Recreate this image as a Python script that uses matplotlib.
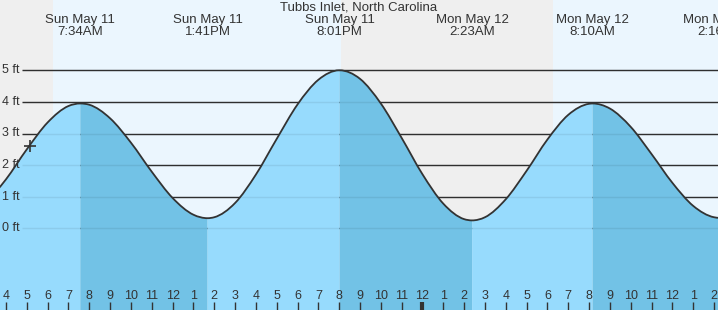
import matplotlib.pyplot as plt
import numpy as np
from matplotlib.path import Path
from matplotlib.patches import PathPatch

plt.rcParams['font.family'] = ['Liberation Sans', 'DejaVu Sans']

title = "Tubbs Inlet, North Carolina"

hour_t = np.arange(3, 39)
hour_h = [0.77, 1.55, 2.50, 3.35, 3.87, 3.91, 3.48, 2.71, 1.79, 0.96, 0.43, 0.35,
          0.80, 1.70, 2.83, 3.92, 4.70, 5.00, 4.73, 3.95, 2.86, 1.71, 0.78, 0.29,
          0.35, 0.92, 1.82, 2.81, 3.59, 3.94, 3.79, 3.21, 2.35, 1.44, 0.71, 0.35]

# high / low tides
ext_t = [7.567, 13.683, 20.017, 26.383, 32.167, 38.283]
ext_h = [3.95, 0.32, 5.00, 0.25, 3.95, 0.33]
ext_day = ["Sun May 11", "Sun May 11", "Sun May 11", "Mon May 12", "Mon May 12", "Mon May 12"]
ext_clock = ["7:34AM", "1:41PM", "8:01PM", "2:23AM", "8:10AM", "2:16PM"]

# daylight (sunrise, sunset)
daylight = [(6.26, 20.09), (30.27, 44.0)]
now_t, now_h = 5.15, 2.60

ft_levels = [0, 1, 2, 3, 4, 5]

W, H = 718, 310
px_per_h = 20.824
x0 = 4 - 6 / px_per_h
x1 = x0 + W / px_per_h
px_per_ft = 31.6
y0 = -(H - 228.3) / px_per_ft
y1 = 228.3 / px_per_ft

night = '#efefef'
day = '#ebf6fe'
light = '#97dbfd'
dark = '#72c2e6'
ink = '#333333'

# merge hourly readings with the extremes
t = np.concatenate([hour_t, ext_t]).astype(float)
h = np.concatenate([hour_h, ext_h]).astype(float)
is_ext = np.concatenate([np.zeros(len(hour_t), bool), np.ones(len(ext_t), bool)])
o = np.argsort(t)
t, h, is_ext = t[o], h[o], is_ext[o]

# slopes for a smooth (bezier) drawing of the line: flat at highs/lows
slope = np.zeros(len(t))
for i in range(len(t)):
    if is_ext[i]:
        continue
    if i == 0:
        slope[i] = (h[1] - h[0]) / (t[1] - t[0])
    elif i == len(t) - 1:
        slope[i] = (h[i] - h[i - 1]) / (t[i] - t[i - 1])
    else:
        dl, dr = t[i] - t[i - 1], t[i + 1] - t[i]
        sl, sr = (h[i] - h[i - 1]) / dl, (h[i + 1] - h[i]) / dr
        slope[i] = (sl * dr + sr * dl) / (dl + dr)


def curve(i0, i1):
    verts = [(t[i0], h[i0])]
    for i in range(i0, i1):
        dx = t[i + 1] - t[i]
        verts += [(t[i] + dx / 3, h[i] + slope[i] * dx / 3),
                  (t[i + 1] - dx / 3, h[i + 1] - slope[i + 1] * dx / 3),
                  (t[i + 1], h[i + 1])]
    codes = [Path.MOVETO] + [Path.CURVE4] * (len(verts) - 1)
    return verts, codes


fig = plt.figure(figsize=(W / 100, H / 100), dpi=100)
ax = fig.add_axes([0, 0, 1, 1])
ax.set_xlim(x0, x1)
ax.set_ylim(y0, y1)
ax.set_axis_off()

ax.axvspan(x0 - 5, x1 + 5, color=night, lw=0, zorder=0)
for a, b in daylight:
    ax.axvspan(a, b, color=day, lw=0, zorder=0)

gx = x0 + 22 / px_per_h
ax.hlines(ft_levels, gx, x1 + 1, color=ink, lw=1, zorder=1)

# water, split at every high / low
cut = [0] + [i for i in range(len(t)) if is_ext[i]] + [len(t) - 1]
cut = sorted(set(cut))
for a, b in zip(cut[:-1], cut[1:]):
    verts, codes = curve(a, b)
    verts += [(t[b], y0 - 1), (t[a], y0 - 1), (t[a], h[a])]
    codes += [Path.LINETO, Path.LINETO, Path.CLOSEPOLY]
    col = light if h[b] > h[a] else dark
    ax.add_patch(PathPatch(Path(verts, codes), facecolor=col, lw=0, zorder=2))

ax.hlines(ft_levels, gx, x1 + 1, color='black', alpha=0.07, lw=1, zorder=3)

verts, codes = curve(0, len(t) - 1)
ax.add_patch(PathPatch(Path(verts, codes), facecolor='none', edgecolor=ink,
                       lw=1.3, zorder=4))
ax.plot([now_t], [now_h], marker='+', ms=9, mew=1.2, color=ink, zorder=5)

ytr = ax.get_yaxis_transform()
for v in ft_levels:
    ax.text(2 / W, v, f"{v} ft", transform=ytr, ha='left', va='center',
            fontsize=9, color=ink, zorder=6)

xtr = ax.get_xaxis_transform()
for hr in range(4, 39):
    lab = (hr - 1) % 12 + 1
    ax.text(hr, (H - 296) / H, str(lab), transform=xtr, ha='center', va='center',
            fontsize=9, color=ink, zorder=6)
    lw = 3 if hr % 24 == 0 else 1
    ax.plot([hr, hr], [0, 8 / H], transform=xtr, color=ink, lw=lw, zorder=6,
            solid_capstyle='butt')

for et, d, c in zip(ext_t, ext_day, ext_clock):
    ax.text(et, 1 - 20 / H, d, transform=xtr, ha='center', va='center',
            fontsize=9.5, color=ink, zorder=6)
    ax.text(et, 1 - 32 / H, c, transform=xtr, ha='center', va='center',
            fontsize=9.5, color=ink, zorder=6)

ax.text(0.5, 1 - 7 / H, title, transform=ax.transAxes, ha='center', va='center',
        fontsize=9.5, color=ink, zorder=6)

fig.savefig('out.png', dpi=100)
